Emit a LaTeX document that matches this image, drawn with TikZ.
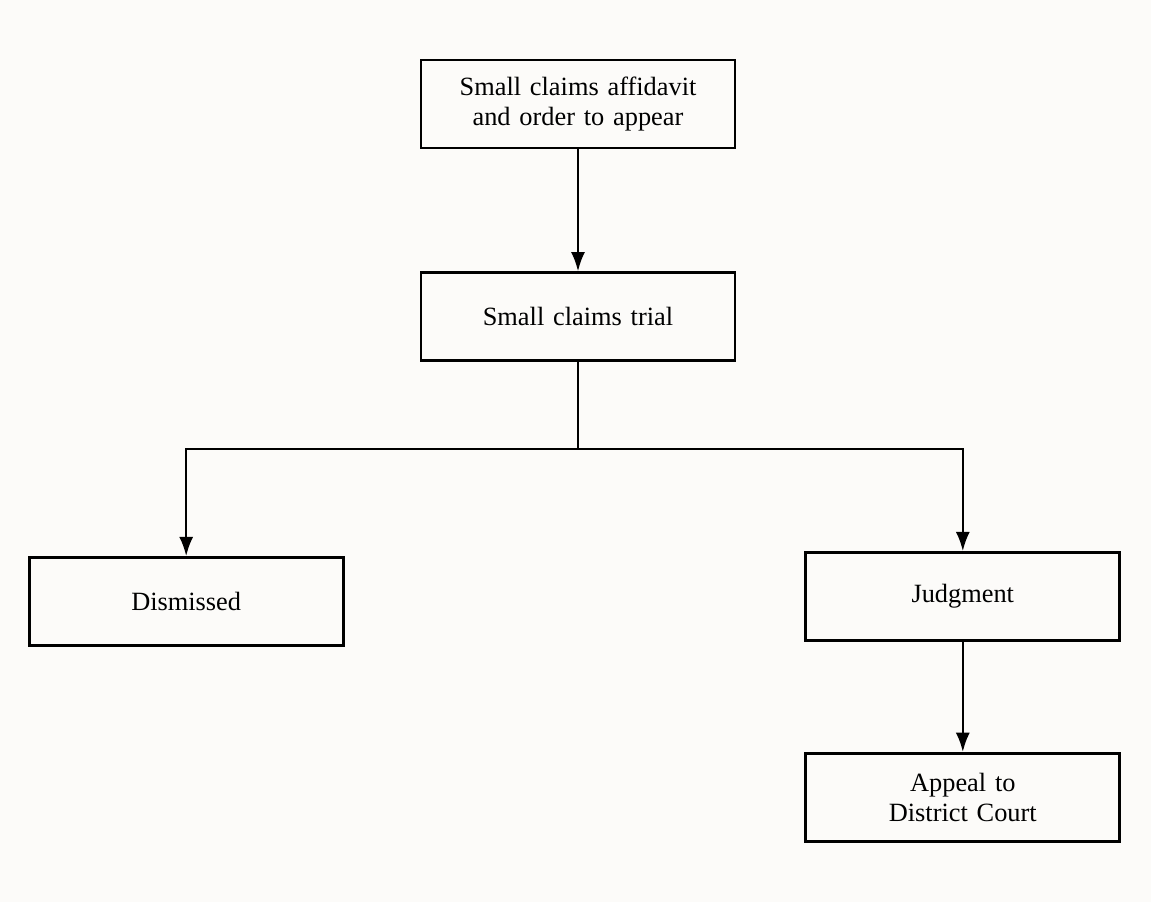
\documentclass[tikz,border=0pt]{standalone}
\usepackage{fontspec}
\setmainfont{Liberation Serif}
\usepackage{xcolor}
\usepackage{tikz}
\usetikzlibrary{shapes.geometric, arrows.meta, positioning}

\definecolor{paper}{RGB}{252,251,249}

\begin{document}
\begin{tikzpicture}[node distance=2.44cm, auto,
        block/.style={rectangle, draw, line width=1.6pt, text width=5.8cm, align=center, minimum width=6.28cm, minimum height=1.76cm, font=\fontsize{15}{17}\selectfont},
        line/.style={draw, -{Latex[length=11pt, width=8pt]}, line width=1.4pt}]

        % Background
        \fill [paper] (0,0) rectangle (23.02,-18.04);
        \useasboundingbox (0,0) rectangle (23.02,-18.04);

        % Nodes
        \node [block] (affidavit) at (11.56,-2.08) {Small claims affidavit\\and order to appear};
        \node [block, below=of affidavit] (trial) {Small claims trial};
        \coordinate [below=1.74cm of trial.south] (split);
        \node [block, below left=3.88cm and 1.5cm of trial] (dismissed) {Dismissed};
        \node [block, below right=3.78cm and 1.36cm of trial] (judgment) {Judgment};
        \node [block, below=2.2cm of judgment] (appeal) {Appeal to\\District Court};

        % Edges
        \path [line] (affidavit) -- (trial);
        \draw [line width=1.4pt] (trial) -- (split);
        \path [line] (split) -| (dismissed);
        \path [line] (split) -| (judgment);
        \path [line] (judgment) -- (appeal);

    \end{tikzpicture}
\end{document}
